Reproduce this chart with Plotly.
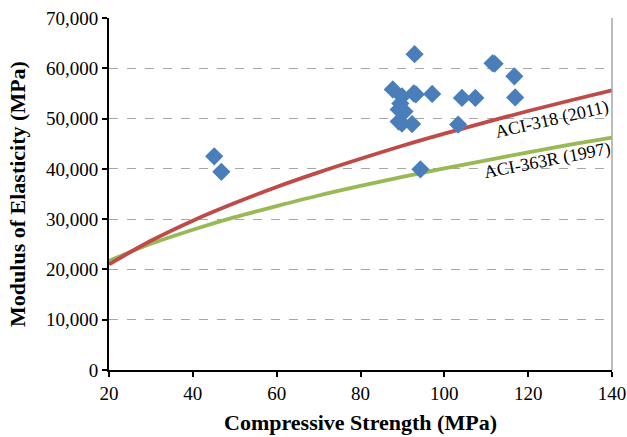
import plotly.graph_objects as go

# Measured data (compressive strength MPa, modulus MPa)
fc_data = [45.1, 46.8, 87.7, 89.5, 89.1, 89.9, 90.5, 89.1, 89.9, 92.3, 92.7, 93.2,
           97.1, 92.9, 94.3, 103.3, 104.2, 107.4, 111.5, 112.0, 116.7, 116.9]
e_data = [42500, 39400, 55800, 53000, 51800, 54400, 51400, 49400, 49000, 48900, 55000, 54800,
          54900, 62800, 39900, 48800, 54100, 54100, 61000, 60900, 58400, 54200]

# Code curves
fc_curve = [20, 30, 40, 50, 60, 70, 80, 90, 100, 110, 120, 130, 140]
e_aci318 = [21000, 25700, 29700, 33200, 36400, 39300, 42000, 44600, 47000, 49300, 51500, 53600, 55600]
e_aci363 = [21700, 25100, 27900, 30400, 32600, 34700, 36600, 38400, 40100, 41700, 43300, 44800, 46200]

x_ticks = [20, 40, 60, 80, 100, 120, 140]
y_ticks = [0, 10000, 20000, 30000, 40000, 50000, 60000, 70000]

serif = "Liberation Serif, Times New Roman, serif"

fig = go.Figure()
fig.add_trace(go.Scatter(x=fc_curve, y=e_aci363, mode="lines", line=dict(color="#98b954", width=3.8, shape="spline"),
                         name="ACI-363R (1997)"))
fig.add_trace(go.Scatter(x=fc_curve, y=e_aci318, mode="lines", line=dict(color="#be4b48", width=3.8, shape="spline"),
                         name="ACI-318 (2011)"))
fig.add_trace(go.Scatter(x=fc_data, y=e_data, mode="markers",
                         marker=dict(symbol="diamond", size=14, color="#4a7ebb"), name="Data"))

fig.add_annotation(x=125.8, y=49900, text="ACI-318 (2011)", showarrow=False,
                   font=dict(family=serif, size=18, color="black"), textangle=-13)
fig.add_annotation(x=124.6, y=41700, text="ACI-363R (1997)", showarrow=False,
                   font=dict(family=serif, size=18, color="black"), textangle=-11)

fig.update_layout(
    width=627, height=437,
    margin=dict(l=109, r=15, t=18, b=67),
    plot_bgcolor="white", paper_bgcolor="white",
    showlegend=False,
    font=dict(family=serif, color="black"),
    xaxis=dict(range=[20, 140], tickvals=x_ticks, showgrid=False, zeroline=False, automargin=False,
               showline=True, linecolor="black", linewidth=2, ticks="outside", ticklen=5,
               tickwidth=2, tickcolor="black", tickfont=dict(family=serif, size=19),
               title=dict(text="<b>Compressive Strength (MPa)</b>", font=dict(family=serif, size=22), standoff=12)),
    yaxis=dict(range=[0, 70000], tickvals=y_ticks, tickformat=",d", showgrid=True,
               gridcolor="#a6a6a6", griddash="dash", gridwidth=1, zeroline=False, automargin=False,
               showline=True, linecolor="black", linewidth=2, ticks="outside", ticklen=5,
               tickwidth=2, tickcolor="black", tickfont=dict(family=serif, size=19),
               title=dict(text="<b>Modulus of Elasticity (MPa)</b>", font=dict(family=serif, size=22), standoff=14)),
)
fig.add_shape(type="line", xref="paper", yref="paper", x0=1, x1=1, y0=0, y1=1,
              line=dict(color="#a6a6a6", width=1.5))

fig.write_html("out.html", config={"displayModeBar": False},
               post_script="document.body.style.margin='0';document.body.style.overflow='hidden';")
